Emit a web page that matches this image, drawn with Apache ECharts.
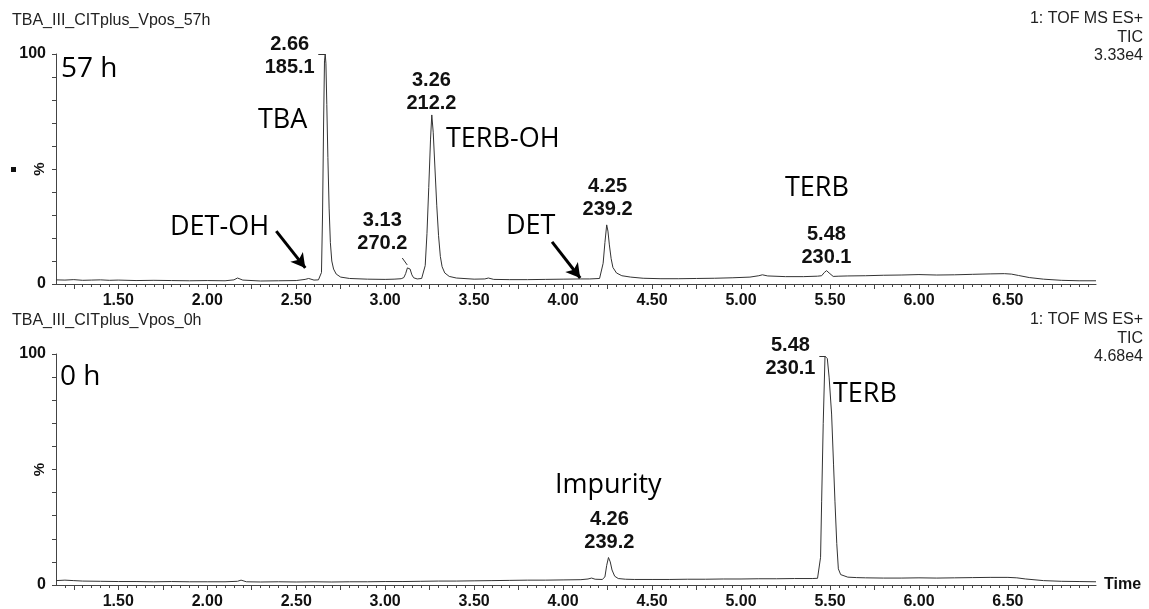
<!DOCTYPE html>
<html>
<head>
<meta charset="utf-8">
<script src="https://cdn.jsdelivr.net/npm/echarts@6/dist/echarts.min.js"></script>
<style>
  html, body { margin: 0; padding: 0; background: #fff; }
  #chart { width: 1149px; height: 609px; }
</style>
</head>
<body>
<div id="chart"></div>
<script>
// TIC trace, 57 h sample (time in min, % of 3.33e4)
var time57 = [1.15, 1.20, 1.25, 1.30, 1.35, 1.40, 1.45, 1.50, 1.60, 1.70, 1.80, 1.90, 2.00, 2.10, 2.15, 2.17, 2.20, 2.30, 2.40, 2.50, 2.55, 2.57, 2.60, 2.625,
  2.635, 2.642, 2.648, 2.654, 2.659, 2.663, 2.667, 2.672, 2.678, 2.685, 2.692, 2.70, 2.71, 2.725, 2.75, 2.80, 2.90, 3.00, 3.05,
  3.09, 3.105, 3.115, 3.125, 3.132, 3.14, 3.15, 3.16, 3.18, 3.205,
  3.215, 3.225, 3.235, 3.245, 3.255, 3.262, 3.27, 3.28, 3.29, 3.30, 3.31, 3.32, 3.335, 3.36, 3.40,
  3.50, 3.56, 3.58, 3.61, 3.70, 3.80, 3.90, 4.00, 4.10, 4.15, 4.205,
  4.215, 4.225, 4.235, 4.245, 4.252, 4.26, 4.27, 4.28, 4.30, 4.33, 4.38,
  4.45, 4.55, 4.65, 4.75, 4.85, 4.95, 5.05, 5.10, 5.12, 5.15, 5.25, 5.35, 5.43,
  5.453, 5.468, 5.481, 5.495, 5.518, 5.55, 5.60, 5.70, 5.80, 5.90, 6.00, 6.10, 6.20, 6.30, 6.40, 6.48, 6.52, 6.56, 6.62, 6.70, 6.80, 6.90, 6.995];
var tic57 = [1.8, 1.7, 1.9, 1.6, 1.7, 1.8, 1.6, 1.7, 1.5, 1.6, 1.5, 1.4, 1.5, 1.4, 1.8, 2.6, 1.7, 1.3, 1.4, 1.5, 2.0, 2.4, 1.7, 1.8,
  2.0, 5, 30, 70, 97, 100, 96, 78, 55, 33, 18, 10, 6.5, 4.3, 3.0, 2.4, 2.1, 2.0, 2.1,
  2.3, 2.8, 4.5, 7.0, 7.7, 6.5, 4.0, 2.7, 2.2, 2.4,
  3.0, 8, 22, 42, 63, 73.5, 66, 50, 34, 21, 12, 7.5, 4.8, 3.3, 2.6,
  2.1, 2.2, 2.6, 2.0, 1.9, 1.9, 2.0, 2.1, 2.2, 2.2, 2.4,
  2.8, 9, 18, 25.7, 23, 17, 11, 7.2, 4.8, 3.6, 3.0,
  2.5, 2.3, 2.3, 2.4, 2.5, 2.7, 3.0, 3.6, 4.0, 3.5, 3.2, 3.2, 3.4,
  3.6, 5.0, 5.8, 4.8, 3.3, 3.4, 3.5, 3.6, 3.8, 3.9, 4.1, 3.9, 4.0, 4.2, 4.4, 4.5, 4.3, 3.7, 2.8, 2.1, 1.6, 1.4, 1.4];

// TIC trace, 0 h sample (time in min, % of 4.68e4)
var time0 = [1.15, 1.20, 1.25, 1.30, 1.40, 1.50, 1.60, 1.70, 1.80, 1.90, 2.00, 2.10, 2.17, 2.19, 2.22, 2.30, 2.40, 2.50, 2.60, 2.70, 2.80, 2.90,
  3.00, 3.10, 3.20, 3.30, 3.40, 3.50, 3.60, 3.70, 3.80, 3.90, 4.00, 4.10, 4.14, 4.16, 4.18, 4.22,
  4.235, 4.245, 4.255, 4.265, 4.275, 4.29, 4.31, 4.35,
  4.40, 4.50, 4.60, 4.70, 4.80, 4.90, 5.00, 5.10, 5.20, 5.30, 5.40, 5.43,
  5.44, 5.447, 5.453, 5.462, 5.472, 5.485, 5.495, 5.509, 5.52, 5.528, 5.538, 5.547, 5.56, 5.60, 5.65,
  5.70, 5.80, 5.90, 6.00, 6.10, 6.20, 6.30, 6.40, 6.50, 6.55, 6.60, 6.70, 6.80, 6.90, 6.995];
var tic0 = [1.9, 2.1, 1.9, 1.7, 1.6, 1.5, 1.5, 1.4, 1.5, 1.4, 1.4, 1.4, 1.6, 2.1, 1.4, 1.3, 1.4, 1.3, 1.4, 1.3, 1.4, 1.4,
  1.5, 1.5, 1.6, 1.7, 1.7, 1.8, 1.9, 2.0, 2.1, 2.1, 2.2, 2.3, 2.6, 3.0, 2.5, 2.4,
  3.5, 8.5, 11.9, 10, 6.5, 3.8, 2.8, 2.5,
  2.4, 2.4, 2.4, 2.5, 2.5, 2.6, 2.6, 2.7, 2.7, 2.8, 2.8, 2.9,
  3.2, 12, 36, 70, 99, 98, 90, 74, 52, 36, 18, 7, 4.5, 3.4, 3.2,
  3.1, 3.0, 3.0, 3.1, 3.0, 3.1, 3.2, 3.3, 3.3, 3.1, 2.6, 1.9, 1.6, 1.5, 1.4];

// axis ticks and labels
var timeLabels = [1.5, 2.0, 2.5, 3.0, 3.5, 4.0, 4.5, 5.0, 5.5, 6.0, 6.5];
var timeMajorTicks = [1.25, 1.5, 1.75, 2.0, 2.25, 2.5, 2.75, 3.0, 3.25, 3.5, 3.75, 4.0, 4.25, 4.5, 4.75, 5.0, 5.25, 5.5, 5.75, 6.0, 6.25, 6.5, 6.75];
var percentLabels = [0, 100];

// annotated peaks: retention time and m/z
var peakTime57 = [2.66, 3.13, 3.26, 4.25, 5.48];
var peakMz57 = ['185.1', '270.2', '212.2', '239.2', '230.1'];
var peakTime0 = [4.26, 5.48];
var peakMz0 = ['239.2', '230.1'];

var X_MIN = 1.15, X_MAX = 6.995;
var LINE = '#333';
var AXIS = '#444';
var LABEL_FONT = 'Liberation Sans, Arial, sans-serif';
var NOTE_FONT = 'Open Sans, sans-serif';

// short ticks every 0.05 min
var timeMinorTicks = [];
for (var k = 24; k * 0.05 < X_MAX; k++) timeMinorTicks.push(+(k * 0.05).toFixed(2));

function pairs(xs, ys) {
  return xs.map(function (x, i) { return [x, ys[i]]; });
}

function peakHeight(xs, ys, t) {
  var best = 0;
  xs.forEach(function (x, i) { if (Math.abs(x - t) <= 0.03 && ys[i] > best) best = ys[i]; });
  return best;
}

// labels sit above the peak top, shifted by offset
function peakMarks(xs, ys, times, mzs, placements) {
  return times.map(function (t, i) {
    var p = placements[i];
    return {
      coord: [t, peakHeight(xs, ys, t)],
      label: {
        show: true,
        formatter: t.toFixed(2) + '\n' + mzs[i],
        position: 'top',
        distance: p.dist,
        offset: p.off || [0, 0],
        align: 'center',
        fontFamily: LABEL_FONT,
        fontWeight: 'bold',
        fontSize: 20,
        lineHeight: 23,
        color: '#111'
      }
    };
  });
}

var arrowStyle = { color: '#000', width: 3, type: 'solid' };
var leaderStyle = { color: '#333', width: 1, type: 'solid' };

function xAxes(grid, withName) {
  return [{
    gridIndex: grid, type: 'value', position: 'bottom', min: X_MIN, max: X_MAX,
    name: withName ? 'Time' : '', nameLocation: 'end', nameGap: 8, nameMoveOverlap: false,
    nameTextStyle: { fontFamily: LABEL_FONT, fontWeight: 'bold', fontSize: 16, color: '#111', verticalAlign: 'middle' },
    axisLine: { show: true, lineStyle: { color: AXIS, width: 1 } },
    axisTick: { show: true, customValues: timeMajorTicks, length: 5, lineStyle: { color: AXIS } },
    axisLabel: {
      customValues: timeLabels, margin: 9,
      formatter: function (v) { return v.toFixed(2); },
      fontFamily: LABEL_FONT, fontWeight: 'bold', fontSize: 16, color: '#111'
    },
    splitLine: { show: false }
  }, {
    gridIndex: grid, type: 'value', position: 'bottom', min: X_MIN, max: X_MAX,
    axisLine: { show: false },
    axisTick: { show: true, customValues: timeMinorTicks, length: 3, lineStyle: { color: AXIS } },
    axisLabel: { show: false },
    splitLine: { show: false }
  }];
}

function yAxis(grid) {
  return {
    gridIndex: grid, type: 'value', min: 0, max: 100, interval: 10,
    name: '%', nameLocation: 'middle', nameRotate: 90, nameGap: 9, nameMoveOverlap: false,
    nameTextStyle: { fontFamily: LABEL_FONT, fontWeight: 'bold', fontSize: 15, color: '#111' },
    axisLine: { show: true, lineStyle: { color: AXIS, width: 1 } },
    axisTick: { show: true, length: 4, lineStyle: { color: AXIS } },
    axisLabel: {
      margin: 10, fontFamily: LABEL_FONT, fontWeight: 'bold', fontSize: 16, color: '#111',
      formatter: function (v) { return percentLabels.indexOf(v) >= 0 ? String(v) : ''; }
    },
    splitLine: { show: false }
  };
}

function txt(text, x, y, opts) {
  opts = opts || {};
  return {
    type: 'text', silent: true, z: 100,
    style: {
      text: text, x: x, y: y,
      fontFamily: opts.font || NOTE_FONT,
      fontSize: opts.size || 27,
      fontWeight: opts.weight || 'normal',
      fill: opts.color || '#000',
      align: opts.align || 'left',
      verticalAlign: 'middle'
    }
  };
}

var hdr = { font: LABEL_FONT, size: 16, color: '#222' };
var hdrR = { font: LABEL_FONT, size: 16, color: '#222', align: 'right' };

var chart = echarts.init(document.getElementById('chart'), null, { renderer: 'canvas' });
chart.setOption({
  animation: false,
  backgroundColor: '#fff',
  grid: [
    { left: 56, right: 53, top: 54, height: 230, outerBoundsMode: 'none', containLabel: false },
    { left: 56, right: 53, top: 354, height: 231, outerBoundsMode: 'none', containLabel: false }
  ],
  xAxis: xAxes(0, false).concat(xAxes(1, true)),
  yAxis: [yAxis(0), yAxis(1)],
  series: [{
    name: '57 h', type: 'line', xAxisIndex: 0, yAxisIndex: 0,
    data: pairs(time57, tic57), showSymbol: false, silent: true,
    lineStyle: { color: LINE, width: 1 },
    markPoint: {
      symbol: 'circle', symbolSize: 0, silent: true,
      data: peakMarks(time57, tic57, peakTime57, peakMz57, [
        { dist: 0, off: [-35, 25] },
        { dist: 11, off: [-26, 0] },
        { dist: 0 },
        { dist: 4 },
        { dist: 2 }
      ])
    },
    markLine: {
      silent: true, symbol: ['none', 'arrow'], symbolSize: [12, 14],
      label: { show: false }, lineStyle: arrowStyle,
      data: [
        [{ coord: [2.388, 23.0] }, { coord: [2.551, 7.0] }],
        [{ coord: [3.938, 18.3] }, { coord: [4.096, 2.6] }],
        [{ coord: [3.096, 11.3], symbol: 'none', lineStyle: leaderStyle }, { coord: [3.124, 8.3], symbol: 'none' }],
        [{ coord: [2.624, 100], symbol: 'none', lineStyle: leaderStyle }, { coord: [2.662, 100], symbol: 'none' }]
      ]
    }
  }, {
    name: '0 h', type: 'line', xAxisIndex: 2, yAxisIndex: 1,
    data: pairs(time0, tic0), showSymbol: false, silent: true,
    lineStyle: { color: LINE, width: 1 },
    markPoint: {
      symbol: 'circle', symbolSize: 0, silent: true,
      data: peakMarks(time0, tic0, peakTime0, peakMz0, [
        { dist: 4 },
        { dist: 0, off: [-36, 24] }
      ])
    },
    markLine: {
      silent: true, symbol: 'none', label: { show: false }, lineStyle: leaderStyle,
      data: [
        [{ coord: [5.44, 99] }, { coord: [5.475, 99] }]
      ]
    }
  }],
  graphic: [
    txt('TBA_III_CITplus_Vpos_57h', 12, 21, hdr),
    txt('1: TOF MS ES+', 1143, 19, hdrR),
    txt('TIC', 1143, 38, hdrR),
    txt('3.33e4', 1143, 56, hdrR),
    txt('TBA_III_CITplus_Vpos_0h', 12, 321, hdr),
    txt('1: TOF MS ES+', 1143, 320, hdrR),
    txt('TIC', 1143, 339, hdrR),
    txt('4.68e4', 1143, 357, hdrR),
    { type: 'rect', silent: true, shape: { x: 11, y: 167, width: 5, height: 5 }, style: { fill: '#111' } },
    txt('57 h', 61, 69, { size: 28 }),
    txt('0 h', 60, 377, { size: 28 }),
    txt('TBA', 258, 120),
    txt('TERB-OH', 446, 139),
    txt('DET-OH', 170, 227),
    txt('DET', 506, 226),
    txt('TERB', 785, 188),
    txt('Impurity', 555, 485),
    txt('TERB', 833, 394)
  ]
});
</script>
</body>
</html>
